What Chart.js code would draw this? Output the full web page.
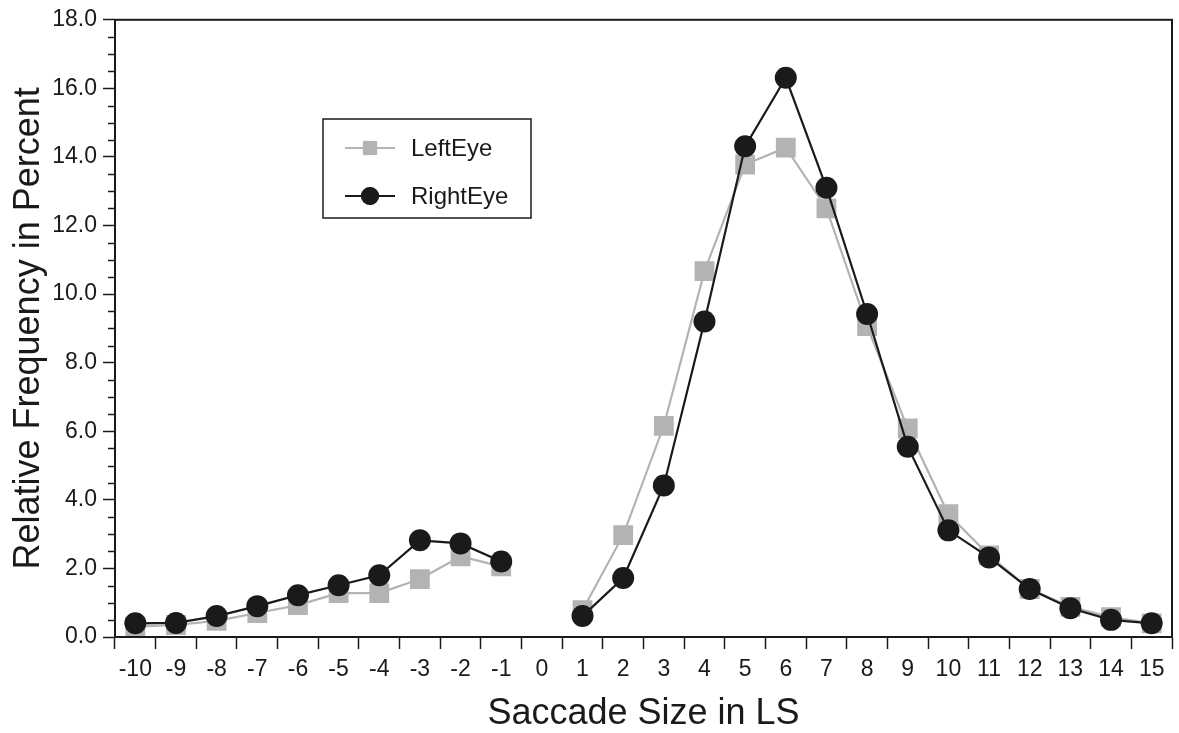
<!DOCTYPE html>
<html>
<head>
<meta charset="utf-8">
<script src="https://cdn.jsdelivr.net/npm/chart.js@4"></script>
<style>
  html, body { margin: 0; padding: 0; background: #fff; overflow: hidden; }
  canvas { display: block; }
</style>
</head>
<body>
<canvas id="c" width="1186" height="733"></canvas>
<script>
// categories on the x axis (saccade size in LS)
var sizes = ['-10','-9','-8','-7','-6','-5','-4','-3','-2','-1','0','1','2','3','4','5','6','7','8','9','10','11','12','13','14','15'];

// relative frequency in percent, no value at 0
var leftEye  = [0.3,0.35,0.47,0.7,0.93,1.28,1.28,1.69,2.35,2.06,null,0.78,2.97,6.16,10.67,13.78,14.27,12.5,9.07,6.08,3.58,2.38,1.4,0.88,0.58,0.4];
var rightEye = [0.4,0.41,0.61,0.9,1.22,1.51,1.8,2.82,2.73,2.2,null,0.61,1.72,4.42,9.2,14.31,16.31,13.1,9.42,5.55,3.11,2.32,1.4,0.84,0.5,0.4];

var yTicks = [0,2,4,6,8,10,12,14,16,18];

var FONT = '"Liberation Sans", Arial, sans-serif';
var GREY = '#b3b3b3';
var DARK = '#1a1a1a';

// frame, minor ticks and the legend box
var extras = {
  id: 'extras',
  afterDraw: function(chart) {
    var ctx = chart.ctx;
    var a = chart.chartArea;
    var y = chart.scales.y;
    ctx.save();
    ctx.strokeStyle = DARK;
    ctx.lineWidth = 2;
    ctx.strokeRect(a.left, a.top, a.right - a.left, a.bottom - a.top);
    // minor ticks every 0.5
    ctx.lineWidth = 1.5;
    for (var v = 0.5; v < 18; v += 0.5) {
      if (v % 2 === 0) continue;
      var py = Math.round(y.getPixelForValue(v)) + 0.5;
      ctx.beginPath();
      ctx.moveTo(a.left - 7, py);
      ctx.lineTo(a.left, py);
      ctx.stroke();
    }
    // legend
    var bx = 323, by = 119, bw = 208, bh = 99;
    ctx.lineWidth = 1.5;
    ctx.strokeStyle = DARK;
    ctx.strokeRect(bx, by, bw, bh);
    var items = [
      {label: chart.data.datasets[1].label, color: GREY, style: 'rect', r: 10, y: 148},
      {label: chart.data.datasets[0].label, color: DARK, style: 'circle', r: 9, y: 196}
    ];
    ctx.font = '24px ' + FONT;
    ctx.textBaseline = 'middle';
    items.forEach(function(it) {
      ctx.strokeStyle = it.color;
      ctx.fillStyle = it.color;
      ctx.lineWidth = 2;
      ctx.beginPath();
      ctx.moveTo(345, it.y);
      ctx.lineTo(395, it.y);
      ctx.stroke();
      Chart.helpers.drawPoint(ctx, {pointStyle: it.style, radius: it.r, borderWidth: 0}, 370, it.y);
      ctx.fill();
      ctx.fillStyle = DARK;
      ctx.fillText(it.label, 411, it.y + 1);
    });
    ctx.restore();
  }
};

new Chart(document.getElementById('c').getContext('2d'), {
  type: 'line',
  data: {
    labels: sizes,
    datasets: [{
      label: 'RightEye',
      data: rightEye,
      borderColor: DARK,
      backgroundColor: DARK,
      borderWidth: 2.2,
      pointStyle: 'circle',
      pointRadius: 11,
      pointBorderWidth: 0,
      spanGaps: false,
      order: 0
    }, {
      label: 'LeftEye',
      data: leftEye,
      borderColor: GREY,
      backgroundColor: GREY,
      borderWidth: 2.2,
      pointStyle: 'rect',
      pointRadius: 14,
      pointBorderWidth: 0,
      spanGaps: false,
      order: 1
    }]
  },
  options: {
    responsive: false,
    animation: false,
    layout: { padding: { top: 18, right: 0, left: 0, bottom: 0 } },
    plugins: {
      legend: { display: false },
      tooltip: { enabled: false }
    },
    scales: {
      x: {
        offset: true,
        grid: { display: true, drawOnChartArea: false, offset: true, tickLength: 12, tickWidth: 1.5, tickColor: DARK },
        border: { display: true, color: DARK, width: 2 },
        ticks: { color: DARK, font: { family: FONT, size: 23 }, padding: 7, maxRotation: 0, autoSkip: false },
        title: { display: true, text: 'Saccade Size in LS', color: DARK, font: { family: FONT, size: 36, lineHeight: 1.05 }, padding: { top: 0, bottom: 0 } },
        afterFit: function(s) { s.height = 96; }
      },
      y: {
        min: 0,
        max: 18,
        afterBuildTicks: function(s) { s.ticks = yTicks.map(function(v) { return {value: v}; }); },
        grid: { display: true, drawOnChartArea: false, tickLength: 12, tickWidth: 1.5, tickColor: DARK },
        border: { display: true, color: DARK, width: 2 },
        ticks: { color: DARK, font: { family: FONT, size: 23 }, padding: 6, callback: function(v) { return Number(v).toFixed(1); } },
        title: { display: true, text: 'Relative Frequency in Percent', color: DARK, font: { family: FONT, size: 36 }, padding: { top: 7, bottom: 0 } },
        afterFit: function(s) { s.width = 115; }
      }
    }
  },
  plugins: [extras]
});
</script>
</body>
</html>
